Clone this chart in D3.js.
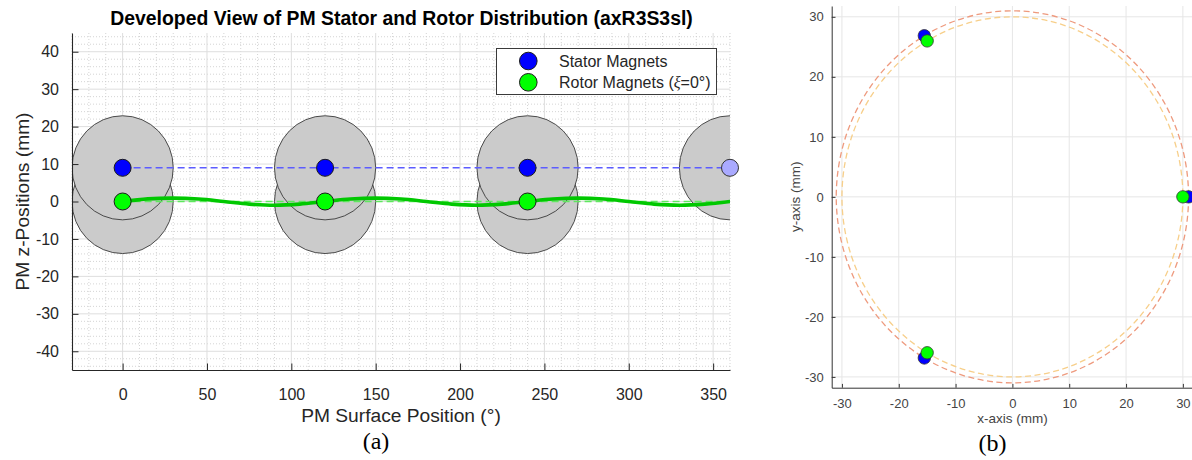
<!DOCTYPE html>
<html>
<head>
<meta charset="utf-8">
<script src="https://cdn.jsdelivr.net/npm/d3@7"></script>
<style>
  html, body { margin: 0; padding: 0; background: #fff; }
  svg { display: block; }
  text { font-family: "Liberation Sans", Arial, Helvetica, sans-serif; }
</style>
</head>
<body>
<svg id="fig" width="1192" height="460"></svg>
<script>
// ---- Data: developed view (a) ----
const statorAngles = [0, 120, 240];          // deg
const statorZ = [9, 9, 9];                   // mm
const rotorAngles = [0, 120, 240];           // deg
const rotorZ = [0, 0, 0];                    // mm
const periodicStatorAngles = [360];          // repeated stator magnet at 360 deg
const periodicStatorZ = [9];
// rotor magnet trajectory along the surface
const rotorPathAngles = [0, 15, 30, 45, 60, 75, 90, 105, 120, 135, 150, 165, 180,
                         195, 210, 225, 240, 255, 270, 285, 300, 315, 330, 345, 360];
const rotorPathZ = [0, 0.7, 0.9, 0.65, 0, -0.7, -1.0, -0.7, 0, 0.65, 0.9, 0.65, 0,
                    -0.7, -1.0, -0.7, 0, 0.65, 0.9, 0.65, 0, -0.7, -1.0, -0.7, 0];
const magnetHalfSpanDeg = 30;   // angular half-width of a magnet footprint
const magnetRadiusMm = 13.9;    // axial radius of a magnet footprint
const xTicksA = [0, 50, 100, 150, 200, 250, 300, 350];
const yTicksA = [-40, -30, -20, -10, 0, 10, 20, 30, 40];

// ---- Data: top view (b) ----
const statorRadius = 31;  // mm
const rotorRadius = 30;   // mm
const magnetAnglesB = [0, 120, 240];
const xTicksB = [-30, -20, -10, 0, 10, 20, 30];
const yTicksB = [-30, -20, -10, 0, 10, 20, 30];

const svg = d3.select("#fig");
const axisColor = "#262626";
const plainFmt = d => String(d);   // hyphen-minus tick labels

// =================== Panel (a) ===================
const A = { left: 72, right: 730, top: 33, bottom: 370 };
const xA = d3.scaleLinear().domain([-30, 360]).range([A.left, A.right]);
const yA = d3.scaleLinear().domain([-45, 45]).range([A.bottom, A.top]);

svg.append("defs").append("clipPath").attr("id", "clipA")
  .append("rect").attr("x", A.left).attr("y", A.top)
  .attr("width", A.right - A.left).attr("height", A.bottom - A.top);

const gA = svg.append("g");

// minor grid
const minorX = d3.range(-30, 361, 10).filter(v => v % 50 !== 0);
const minorY = d3.range(-44, 45, 2).filter(v => v % 10 !== 0);
gA.append("g").selectAll("line").data(minorX).join("line")
  .attr("x1", d => xA(d)).attr("x2", d => xA(d))
  .attr("y1", A.top).attr("y2", A.bottom)
  .attr("stroke", "#c9c9c9").attr("stroke-width", 0.8).attr("stroke-dasharray", "1,2");
gA.append("g").selectAll("line").data(minorY).join("line")
  .attr("y1", d => yA(d)).attr("y2", d => yA(d))
  .attr("x1", A.left).attr("x2", A.right)
  .attr("stroke", "#c9c9c9").attr("stroke-width", 0.8).attr("stroke-dasharray", "1,2");
// major grid
gA.append("g").selectAll("line").data(xTicksA).join("line")
  .attr("x1", d => xA(d)).attr("x2", d => xA(d))
  .attr("y1", A.top).attr("y2", A.bottom)
  .attr("stroke", "#dedede").attr("stroke-width", 1);
gA.append("g").selectAll("line").data(yTicksA).join("line")
  .attr("y1", d => yA(d)).attr("y2", d => yA(d))
  .attr("x1", A.left).attr("x2", A.right)
  .attr("stroke", "#dedede").attr("stroke-width", 1);

// magnet footprints
const rxA = xA(magnetHalfSpanDeg) - xA(0);
const ryA = yA(0) - yA(magnetRadiusMm);
const plotA = gA.append("g").attr("clip-path", "url(#clipA)");
const footprint = (sel, xs, zs) => sel.selectAll(null).data(xs.map((x, i) => [x, zs[i]])).join("ellipse")
  .attr("cx", d => xA(d[0])).attr("cy", d => yA(d[1]))
  .attr("rx", rxA).attr("ry", ryA)
  .attr("fill", "#cbcbcb").attr("stroke", "#3a3a3a").attr("stroke-width", 0.9);
footprint(plotA.append("g"), rotorAngles, rotorZ);
footprint(plotA.append("g"), statorAngles, statorZ);
footprint(plotA.append("g"), periodicStatorAngles, periodicStatorZ);

// reference lines
plotA.append("line")
  .attr("x1", xA(0)).attr("x2", xA(360))
  .attr("y1", yA(statorZ[0])).attr("y2", yA(statorZ[0]))
  .attr("stroke", "#5c5cff").attr("stroke-width", 1.4).attr("stroke-dasharray", "7,4");
plotA.append("line")
  .attr("x1", xA(0)).attr("x2", xA(360))
  .attr("y1", yA(rotorZ[0])).attr("y2", yA(rotorZ[0]))
  .attr("stroke", "#5fe85f").attr("stroke-width", 1.4).attr("stroke-dasharray", "7,4");

// rotor trajectory
const pathLine = d3.line().x(d => xA(d[0])).y(d => yA(d[1])).curve(d3.curveCatmullRom.alpha(0.5));
plotA.append("path")
  .datum(rotorPathAngles.map((a, i) => [a, rotorPathZ[i]]))
  .attr("d", pathLine).attr("fill", "none")
  .attr("stroke", "#00c800").attr("stroke-width", 3.6).attr("stroke-linecap", "round");

// magnet markers
const markerR = 8.5;
gA.append("g").selectAll("circle").data(statorAngles.map((a, i) => [a, statorZ[i]])).join("circle")
  .attr("cx", d => xA(d[0])).attr("cy", d => yA(d[1])).attr("r", markerR)
  .attr("fill", "#0000ff").attr("stroke", "#1a1a1a").attr("stroke-width", 1);
gA.append("g").selectAll("circle").data(periodicStatorAngles.map((a, i) => [a, periodicStatorZ[i]])).join("circle")
  .attr("cx", d => xA(d[0])).attr("cy", d => yA(d[1])).attr("r", markerR)
  .attr("fill", "#aaaaff").attr("stroke", "#333").attr("stroke-width", 1);
gA.append("g").selectAll("circle").data(rotorAngles.map((a, i) => [a, rotorZ[i]])).join("circle")
  .attr("cx", d => xA(d[0])).attr("cy", d => yA(d[1])).attr("r", markerR)
  .attr("fill", "#00ff00").attr("stroke", "#1a1a1a").attr("stroke-width", 1);

// axes
const axA_x = gA.append("g").attr("transform", `translate(0,${A.bottom})`)
  .call(d3.axisBottom(xA).tickValues(xTicksA).tickFormat(plainFmt)
    .tickSizeInner(-6.5).tickSizeOuter(0).tickPadding(19));
const axA_y = gA.append("g").attr("transform", `translate(${A.left},0)`)
  .call(d3.axisLeft(yA).tickValues(yTicksA).tickFormat(plainFmt)
    .tickSizeInner(-6.5).tickSizeOuter(0).tickPadding(13));
[axA_x, axA_y].forEach(ax => {
  ax.select(".domain").attr("stroke", axisColor).attr("stroke-width", 1.1);
  ax.selectAll(".tick line").attr("stroke", axisColor).attr("stroke-width", 1);
  ax.selectAll(".tick text").attr("fill", axisColor).style("font-size", "16px")
    .style("font-family", "'Liberation Sans', Arial, sans-serif");
});

// legend
const leg = gA.append("g");
leg.append("rect").attr("x", 496.5).attr("y", 48.5).attr("width", 220).attr("height", 46)
  .attr("fill", "#fff").attr("stroke", "#3a3a3a").attr("stroke-width", 1);
const legendItems = [
  { fill: "#0000ff", y: 61 },
  { fill: "#00ff00", y: 82.3 }
];
legendItems.forEach(it => {
  leg.append("circle").attr("cx", 528.3).attr("cy", it.y).attr("r", 8.8)
    .attr("fill", it.fill).attr("stroke", "#1a1a1a").attr("stroke-width", 1);
});
leg.append("text").attr("x", 559).attr("y", 61).attr("dy", "0.35em")
  .attr("fill", axisColor).style("font-size", "16px").text("Stator Magnets");
const rotorLegend = leg.append("text").attr("x", 559).attr("y", 82.3).attr("dy", "0.35em")
  .attr("fill", axisColor).style("font-size", "16px");
rotorLegend.append("tspan").text("Rotor Magnets (");
rotorLegend.append("tspan").style("font-style", "italic").style("font-family", "'Liberation Serif', serif").text("ξ");
rotorLegend.append("tspan").text("=0°)");

// title and labels
svg.append("text").attr("x", 401.5).attr("y", 25.3).attr("text-anchor", "middle")
  .attr("fill", "#000").style("font-size", "19.4px").style("font-weight", "bold")
  .text("Developed View of PM Stator and Rotor Distribution (axR3S3sl)");
svg.append("text").attr("x", (A.left + A.right) / 2).attr("y", 421.5).attr("text-anchor", "middle")
  .attr("fill", axisColor).style("font-size", "19.2px").text("PM Surface Position (°)");
svg.append("text").attr("transform", `translate(29,${(A.top + A.bottom) / 2}) rotate(-90)`)
  .attr("text-anchor", "middle").attr("fill", axisColor).style("font-size", "19.2px")
  .text("PM z-Positions (mm)");
svg.append("text").attr("x", 376).attr("y", 449).attr("text-anchor", "middle")
  .style("font-family", "'Liberation Serif', 'Times New Roman', serif").style("font-size", "24px")
  .attr("fill", "#000").text("(a)");

// =================== Panel (b) ===================
const B = { left: 831.7, right: 1193.1, top: 6, bottom: 387.7 };
const xB = d3.scaleLinear().domain([-31.8, 31.8]).range([B.left, B.right]);
const yB = d3.scaleLinear().domain([-31.8, 31.8]).range([B.bottom, B.top]);
const gB = svg.append("g");

gB.append("g").selectAll("line").data(xTicksB).join("line")
  .attr("x1", d => xB(d)).attr("x2", d => xB(d)).attr("y1", B.top).attr("y2", B.bottom)
  .attr("stroke", "#e6e6e6").attr("stroke-width", 1);
gB.append("g").selectAll("line").data(yTicksB).join("line")
  .attr("y1", d => yB(d)).attr("y2", d => yB(d)).attr("x1", B.left).attr("x2", B.right)
  .attr("stroke", "#e6e6e6").attr("stroke-width", 1);

// magnet path circles
[{ r: statorRadius, color: "#ee9a7e" }, { r: rotorRadius, color: "#f7cf8a" }].forEach(c => {
  gB.append("ellipse")
    .attr("cx", xB(0)).attr("cy", yB(0))
    .attr("rx", xB(c.r) - xB(0)).attr("ry", yB(0) - yB(c.r))
    .attr("fill", "none").attr("stroke", c.color).attr("stroke-width", 1.3)
    .attr("stroke-dasharray", "6,3.5");
});

const toRad = a => a * Math.PI / 180;
const markerRB = 6.2;
gB.append("g").selectAll("circle").data(magnetAnglesB).join("circle")
  .attr("cx", a => xB(statorRadius * Math.cos(toRad(a))))
  .attr("cy", a => yB(statorRadius * Math.sin(toRad(a))))
  .attr("r", markerRB).attr("fill", "#0000ff").attr("stroke", "#333").attr("stroke-width", 0.8);
gB.append("g").selectAll("circle").data(magnetAnglesB).join("circle")
  .attr("cx", a => xB(rotorRadius * Math.cos(toRad(a))))
  .attr("cy", a => yB(rotorRadius * Math.sin(toRad(a))))
  .attr("r", markerRB).attr("fill", "#00ff00").attr("stroke", "#333").attr("stroke-width", 0.8);

const axB_x = gB.append("g").attr("transform", `translate(0,${B.bottom})`)
  .call(d3.axisBottom(xB).tickValues(xTicksB).tickFormat(plainFmt)
    .tickSizeInner(-3.8).tickSizeOuter(0).tickPadding(11));
const axB_y = gB.append("g").attr("transform", `translate(${B.left},0)`)
  .call(d3.axisLeft(yB).tickValues(yTicksB).tickFormat(plainFmt)
    .tickSizeInner(-3.8).tickSizeOuter(0).tickPadding(8));
[axB_x, axB_y].forEach(ax => {
  ax.select(".domain").attr("stroke", "#333").attr("stroke-width", 1);
  ax.selectAll(".tick line").attr("stroke", "#333");
  ax.selectAll(".tick text").attr("fill", "#444").style("font-size", "13px")
    .style("font-family", "'Liberation Sans', Arial, sans-serif");
});

svg.append("text").attr("x", xB(0)).attr("y", 422.5).attr("text-anchor", "middle")
  .attr("fill", "#444").style("font-size", "13.5px").text("x-axis (mm)");
svg.append("text").attr("transform", `translate(800,${yB(0)}) rotate(-90)`)
  .attr("text-anchor", "middle").attr("fill", "#444").style("font-size", "13.5px")
  .text("y-axis (mm)");
svg.append("text").attr("x", 992.5).attr("y", 450.5).attr("text-anchor", "middle")
  .style("font-family", "'Liberation Serif', 'Times New Roman', serif").style("font-size", "24px")
  .attr("fill", "#000").text("(b)");
</script>
</body>
</html>
